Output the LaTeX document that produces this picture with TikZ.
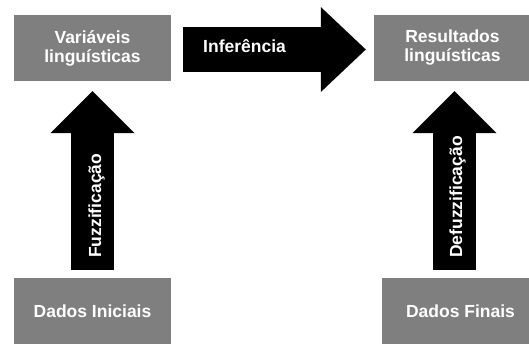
\documentclass[tikz,border=0pt]{standalone}
\usepackage{fontspec}
\setmainfont{Liberation Sans}
\usetikzlibrary{arrows.meta}

\definecolor{cinza}{HTML}{7F7F7F}

\tikzset{
    bloco/.style={rectangle, fill=cinza, text=white, font=\bfseries\fontsize{17.5}{19}\selectfont,
        align=center, minimum width=157pt, minimum height=66pt, inner sep=0pt},
    seta/.style={line width=43pt, -{Triangle[length=42pt, width=84pt, line width=0pt]}},
    rotulo/.style={text=white, font=\bfseries\fontsize{17.5}{19}\selectfont, inner sep=0pt}
}

\begin{document}
\begin{tikzpicture}[x=1pt, y=-1pt]
        \useasboundingbox (0, 0) rectangle (529, 343);
        \clip (0, 0) rectangle (529, 343);

        % Caixas
        \node[bloco] (var) at (92.5, 48) {Variáveis\\linguísticas};
        \node[bloco] (res) at (452.5, 48) {Resultados\\linguísticas};
        \node[bloco] (ini) at (92.5, 311) {Dados Iniciais};
        \node[bloco] (fin) at (460.5, 311) {Dados Finais};

        % Inferencia
        \draw[seta, line width=45pt, -{Triangle[length=45pt, width=85pt, line width=0pt]}]
            ([xshift=12pt, yshift=-1.5pt]var.east) -- ([xshift=-8pt, yshift=-1.5pt]res.west);
        \node[rotulo, anchor=base west] (inf) at (203, 52) {Inferência};

        % Fuzzificacao e defuzzificacao
        \draw[seta] ([yshift=8pt]ini.north) -- ([yshift=-10pt]var.south);
        \draw[seta] ([xshift=-6pt, yshift=8pt]fin.north) -- ([xshift=2pt, yshift=-10pt]res.south);
        \node[rotulo, rotate=90, anchor=base west] (fuz) at (101, 258) {Fuzzificação};
        \node[rotulo, rotate=90, anchor=base west] (defuz) at (462, 258) {Defuzzificação};
    \end{tikzpicture}
\end{document}
